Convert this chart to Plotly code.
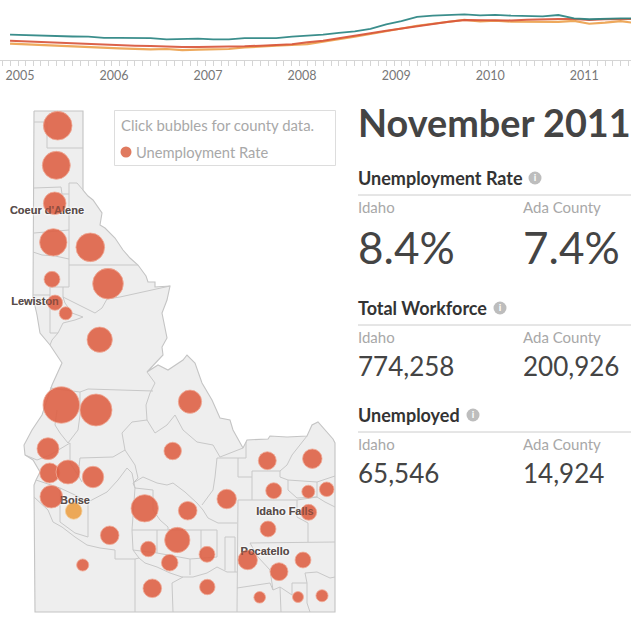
import plotly.graph_objects as go

W, H = 631, 632

# ---- time series (unemployment rate, %, every second month from Jan 2005)
months = [f"{2005 + k // 6}-{(k % 6) * 2 + 1:02d}-01" for k in range(41)]
us_rate = [5.3, 5.2, 5.0, 4.85, 4.9, 4.85, 4.6, 4.6, 4.5, 4.55, 4.25, 4.3, 4.4, 4.25, 4.25, 4.55, 4.55, 4.55, 4.85, 5.0, 5.3,
           5.7, 6.05, 6.6, 7.6, 8.35, 9.3, 9.55, 9.7, 9.85, 9.6, 9.75, 9.55, 9.4, 9.4, 9.7, 8.95, 8.75, 8.9, 8.95, 8.95]
idaho_rate = [3.95, 3.8, 3.65, 3.5, 3.35, 3.3, 3.15, 3.0, 2.85, 2.75, 2.6, 2.55, 2.55, 2.55, 2.55, 2.7, 2.85, 3.0, 3.15, 3.6, 3.95,
              4.5, 5.0, 5.6, 6.2, 6.7, 7.25, 7.75, 8.2, 8.6, 8.6, 8.45, 8.5, 8.65, 8.8, 8.8, 8.8, 8.6, 8.75, 8.8, 8.8]
ada_rate = [3.3, 3.15, 2.9, 2.85, 2.7, 2.55, 2.4, 2.25, 2.15, 2.0, 2.1, 1.85, 1.95, 2.0, 2.1, 2.45, 2.7, 2.85, 3.0, 3.2, 3.75,
            4.25, 4.85, 5.45, 6.1, 6.7, 7.3, 7.75, 8.15, 8.6, 8.3, 8.45, 8.2, 8.15, 8.15, 8.15, 8.4, 7.75, 8.0, 8.35, 7.85]
year_labels = ["2005", "2006", "2007", "2008", "2009", "2010", "2011"]
year_label_dates = [f"{y}-02-09" for y in year_labels]

# ---- counties: map position, unemployment rate
county_x = [57.7, 56.3, 54.7, 53.3, 90.3, 52, 108, 55, 65.7, 99.7, 61.3, 96, 190, 48, 172.7, 267.3, 312.3, 49.7, 68, 93, 51.3, 273.7,
            308.3, 326.7, 226.7, 144.7, 187.7, 308.7, 268, 109.7, 177.3, 148.3, 207, 247.7, 303, 169.7, 279, 82.7, 152.3, 207.3, 259.7, 298, 322]
county_y = [125.7, 165.3, 203.3, 242.3, 247.3, 279.3, 283.7, 302.7, 313.3, 339.7, 405, 410, 401.7, 448.7, 451, 460.7, 458.7, 473, 472, 477, 496.7, 490.7,
            491.7, 489.3, 499, 508.3, 510.7, 512.3, 529, 535.3, 540, 549, 554.3, 560, 560, 562.7, 571.7, 565, 588.3, 587, 597.3, 597, 595.7]
county_rate = [12.8, 12.5, 10.1, 12.2, 12.8, 7.1, 13.7, 6.8, 5.8, 11.3, 16.3, 14.3, 10.4, 9.8, 7.8, 8.0, 8.7, 8.9, 10.7, 9.6, 10.1, 7.1,
               5.8, 6.5, 8.7, 12.2, 8.3, 7.1, 7.1, 8.3, 11.3, 6.9, 7.1, 8.7, 7.1, 7.4, 8.0, 5.4, 8.3, 6.9, 5.2, 4.9, 5.4]
ada_x, ada_y, ada_value = [73.7], [511], [7.4]

city_names = ["Coeur d'Alene", "Lewiston", "Boise", "Idaho Falls", "Pocatello"]
city_x = [47, 35, 75, 285, 265]
city_y = [211, 302, 501, 512, 552]

state_outline = [(34, 111), (83, 111), (83, 190), (88, 196), (93, 200), (98, 207), (102, 213), (100, 225), (105, 228), (115, 238), (123, 250),
                 (130, 258), (138, 265), (146, 276), (148, 282), (155, 282), (155, 287), (170, 286), (167, 300), (162, 313), (165, 328), (167, 338),
                 (162, 347), (163, 355), (147, 372), (158, 365), (168, 370), (183, 360), (187, 355), (195, 363), (202, 383), (212, 400), (220, 418),
                 (230, 420), (233, 430), (243, 448), (247, 440), (268, 439), (270, 436), (287, 437), (307, 436), (312, 425), (318, 422), (325, 430),
                 (333, 439), (335, 443), (335, 612), (35, 612), (34, 485), (36, 480), (40, 472), (33, 460), (25, 455), (24, 445), (32, 430), (42, 415),
                 (52, 385), (62, 363), (50, 345), (40, 333), (37, 315), (33, 297), (34, 111)]
county_lines = [
    [(34, 122), (47, 122), (47, 148), (83, 148)], [(34, 188), (61, 187), (62, 194), (69, 194)], [(69, 183), (77, 183), (83, 190)],
    [(69, 183), (69, 287)], [(34, 233), (69, 230)], [(33, 252), (42, 255), (55, 256), (69, 259)], [(33, 295), (50, 295), (50, 287), (69, 287)],
    [(69, 265), (138, 265)], [(170, 286), (120, 297), (107, 299), (102, 308), (95, 313), (85, 308), (75, 303), (63, 297), (63, 287)],
    [(63, 297), (65, 303), (72, 313), (83, 317), (75, 320), (63, 323), (58, 333), (50, 333)], [(50, 295), (50, 333)], [(58, 333), (52, 340), (50, 345)],
    [(50, 388), (80, 392), (88, 389), (153, 391)],
    [(147, 372), (155, 383), (150, 393), (146, 405), (147, 420), (155, 433), (167, 425), (175, 415), (183, 430), (197, 442), (213, 445), (220, 457), (243, 448)],
    [(147, 420), (132, 422), (122, 433), (125, 450), (113, 457), (80, 458), (78, 475), (82, 482)],
    [(57, 410), (55, 425), (60, 433), (68, 443), (78, 430), (80, 415), (80, 392)], [(25, 455), (37, 460), (50, 455), (70, 443), (70, 463), (78, 475)],
    [(36, 480), (60, 488), (60, 522), (75, 533), (88, 537), (88, 502), (107, 492), (118, 480), (127, 468), (132, 473), (135, 488)], [(60, 488), (75, 495), (88, 502)],
    [(34, 497), (48, 510), (53, 522), (62, 527), (75, 537), (87, 545), (100, 548), (115, 550), (115, 559), (135, 559), (135, 612)],
    [(135, 488), (132, 530), (133, 550), (139, 558), (135, 559)], [(125, 450), (135, 465), (138, 478), (133, 483), (135, 488)],
    [(133, 483), (143, 477), (157, 483), (167, 485), (173, 483), (185, 492), (197, 503), (203, 510), (208, 518), (218, 523), (237, 523)],
    [(135, 488), (153, 490), (153, 510), (160, 520), (168, 527), (168, 530)], [(132, 530), (217, 530), (217, 557)],
    [(157, 530), (157, 553), (190, 559), (217, 557)], [(201, 530), (201, 558)], [(133, 550), (157, 553)],
    [(139, 558), (145, 563), (157, 567), (170, 573), (182, 577), (193, 577), (207, 573), (217, 567), (227, 572), (237, 572)], [(190, 559), (190, 575)],
    [(172, 583), (173, 612)], [(172, 583), (183, 577)], [(202, 505), (213, 490), (215, 477), (217, 458), (238, 458), (238, 477), (252, 477)],
    [(246, 442), (246, 458), (238, 458)], [(252, 471), (252, 500)], [(252, 471), (280, 471), (287, 465), (292, 455), (307, 436)],
    [(280, 471), (280, 477), (288, 480), (317, 482), (335, 476)], [(288, 480), (288, 490), (297, 498), (317, 497), (317, 482)],
    [(317, 497), (325, 502), (335, 507)], [(238, 500), (297, 500), (317, 497)], [(297, 500), (297, 517), (308, 523), (308, 542)],
    [(238, 500), (237, 612)], [(225, 537), (235, 537), (235, 572)], [(225, 537), (225, 570)], [(250, 543), (335, 542)],
    [(250, 543), (258, 557), (270, 570), (273, 590), (280, 587), (281, 612)], [(237, 588), (270, 583), (273, 590)],
    [(292, 583), (307, 583), (307, 603), (310, 612)], [(307, 583), (305, 573), (317, 572), (330, 578), (335, 577)], [(280, 587), (292, 595), (292, 583)],
]

# ---- right panel
panel_title = "November 2011"
sections = ["Unemployment Rate", "Total Workforce", "Unemployed"]
idaho_values = ["8.4%", "774,258", "65,546"]
ada_values = ["7.4%", "200,926", "14,924"]

FONT = "Lato, 'Open Sans', sans-serif"
DARK, GREY, LINE = "#444444", "#a8a8a8", "#cccccc"
CITY_FONT = "'Liberation Sans', Arial, sans-serif"

fig = go.Figure()

# map (drawn on an axis pair spanning the whole picture)
fig.add_trace(go.Scatter(x=[p[0] for p in state_outline], y=[p[1] for p in state_outline], mode="lines", fill="toself",
                         fillcolor="#eeeeee", line=dict(color="#c4c4c4", width=1.1), xaxis="x2", yaxis="y2", hoverinfo="skip", showlegend=False))
cx, cy = [], []
for seg in county_lines:
    cx += [p[0] for p in seg] + [None]
    cy += [p[1] for p in seg] + [None]
fig.add_trace(go.Scatter(x=cx, y=cy, mode="lines", line=dict(color="#c8c8c8", width=1), xaxis="x2", yaxis="y2", hoverinfo="skip", showlegend=False))
fig.add_trace(go.Scatter(x=city_x, y=city_y, mode="text", text=city_names,
                         textfont=dict(family=CITY_FONT, size=11, color="#606060", weight="bold",
                                       shadow="0 0 3px #ffffff, 0 0 3px #ffffff, 0 0 3px #ffffff"),
                         xaxis="x2", yaxis="y2", hoverinfo="skip", showlegend=False))
SCALE = 2.24
fig.add_trace(go.Scatter(x=county_x, y=county_y, mode="markers",
                         marker=dict(size=[v * SCALE for v in county_rate], opacity=1, color="rgba(222,98,70,0.9)", line=dict(color="rgba(240,170,150,0.8)", width=1)),
                         xaxis="x2", yaxis="y2", hoverinfo="skip", showlegend=False))
fig.add_trace(go.Scatter(x=ada_x, y=ada_y, mode="markers",
                         marker=dict(size=[v * SCALE for v in ada_value], opacity=1, color="rgba(235,160,70,0.9)", line=dict(color="rgba(245,205,150,0.8)", width=1)),
                         xaxis="x2", yaxis="y2", hoverinfo="skip", showlegend=False))
# place names showing faintly through the bubbles
fig.add_trace(go.Scatter(x=city_x, y=city_y, mode="text", text=city_names,
                         textfont=dict(family=CITY_FONT, size=11, color="rgba(85,60,55,0.55)", weight="bold"),
                         xaxis="x2", yaxis="y2", hoverinfo="skip", showlegend=False))
# legend swatch
fig.add_trace(go.Scatter(x=[126], y=[152], mode="markers", marker=dict(size=11, color="#e07a5f"), xaxis="x2", yaxis="y2", hoverinfo="skip", showlegend=False))
# info icons
fig.add_trace(go.Scatter(x=[535, 500, 473], y=[178, 308, 415], mode="markers+text", text=["i", "i", "i"], textposition="middle center",
                         textfont=dict(color="white", size=10, family=FONT, weight="bold"), marker=dict(size=13, color="#bdbdbd"),
                         xaxis="x2", yaxis="y2", hoverinfo="skip", showlegend=False))

# time series
for vals, col, wd in [(ada_rate, "#eda24f", 2.2), (idaho_rate, "#d9563c", 2), (us_rate, "#2b8583", 1.8)]:
    fig.add_trace(go.Scatter(x=months, y=vals, mode="lines", line=dict(color=col, width=wd), opacity=0.92, hoverinfo="skip", showlegend=False))


def px(x):
    return x / W


def py(y):
    return 1 - y / H


notes = []


def note(x, y, text, size, color, weight="normal"):
    notes.append(dict(x=px(x - 2), y=py(y), xref="paper", yref="paper", xanchor="left", yanchor="middle", text=text, showarrow=False,
                      font=dict(family=FONT, size=size, color=color, weight=weight)))


note(358, 122, panel_title, 37.8, DARK, 700)
note(121, 125, "Click bubbles for county data.", 14.9, GREY)
note(136, 152, "Unemployment Rate", 14.7, GREY)
head_y = [178, 308, 415]
label_y = [207, 337, 444]
value_y = [247, 366, 473]
value_size = [44, 26, 26]
for i, s in enumerate(sections):
    note(358, head_y[i], s, 18, "#333333", 700)
    note(358, label_y[i], "Idaho", 15, GREY)
    note(523, label_y[i], "Ada County", 15, GREY)
    note(358, value_y[i], idaho_values[i], value_size[i], DARK, 400)
    note(523, value_y[i], ada_values[i], value_size[i], DARK, 400)

shapes = [dict(type="rect", xref="paper", yref="paper", x0=px(114.5), x1=px(335.5), y0=py(110.5), y1=py(165.5), line=dict(color="#dddddd", width=1))]
for yy in [195, 325, 432]:
    shapes.append(dict(type="line", xref="paper", yref="paper", x0=px(358), x1=1, y0=py(yy), y1=py(yy), line=dict(color=LINE, width=1)))

fig.update_layout(
    width=W, height=H, autosize=False, margin=dict(l=0, r=0, t=0, b=0), paper_bgcolor="white", plot_bgcolor="rgba(0,0,0,0)",
    showlegend=False, annotations=notes, shapes=shapes, font=dict(family=FONT),
    xaxis=dict(domain=[0, 1], range=["2004-11-23", "2011-08-10"], type="date", anchor="y", showgrid=False, zeroline=False,
               showline=True, linecolor="#d5d5d5", tickmode="array", tickvals=year_label_dates, ticktext=year_labels,
               ticks="outside", ticklen=4, tickcolor="rgba(0,0,0,0)", tickfont=dict(size=12.5, color="#777777", family=FONT),
               minor=dict(ticks="outside", ticklen=5, tickcolor="#d5d5d5", dtick="M1", tick0="2005-01-01", showgrid=False)),
    yaxis=dict(domain=[1 - 60 / H, 1], range=[-0.36, 13.06], visible=False, fixedrange=True),
    xaxis2=dict(domain=[0, 1], range=[0, W], anchor="y2", visible=False, fixedrange=True),
    yaxis2=dict(domain=[0, 1], range=[H, 0], anchor="x2", visible=False, fixedrange=True),
)

fig.write_html("out.html", config=dict(displayModeBar=False), post_script="document.body.style.margin='0';")
